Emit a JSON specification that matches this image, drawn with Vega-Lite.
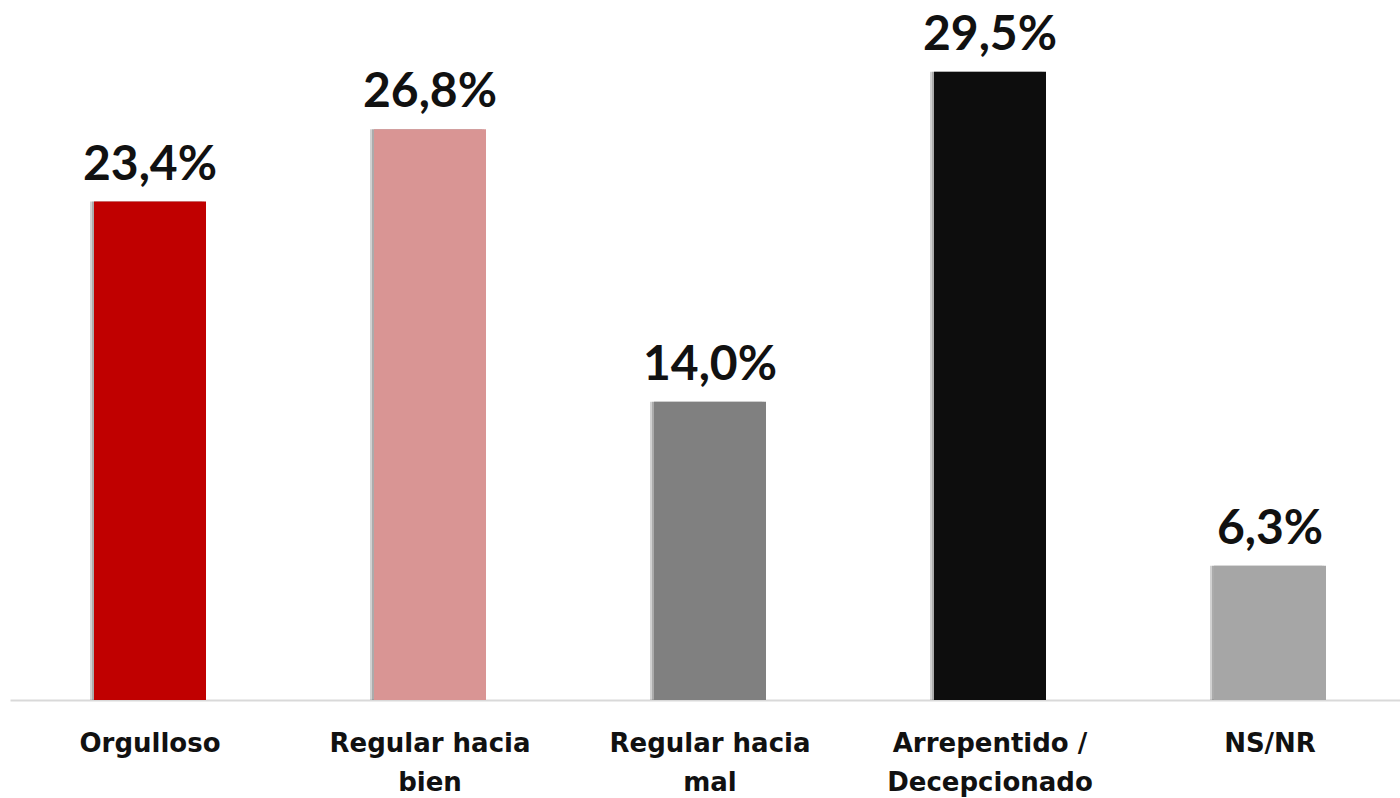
{
  "$schema": "https://vega.github.io/schema/vega-lite/v6.json",
  "width": 1400,
  "height": 639,
  "autosize": {"type": "none"},
  "padding": {"left": 10, "top": 61, "right": 0, "bottom": 98},
  "background": "#ffffff",
  "config": {"view": {"stroke": null}},
  "data": {
    "values": [
      {"cat": "Orgulloso", "value": 23.4, "label": "23,4%", "color": "#C00000"},
      {"cat": "Regular hacia\nbien", "value": 26.8, "label": "26,8%", "color": "#D99594"},
      {"cat": "Regular hacia\nmal", "value": 14.0, "label": "14,0%", "color": "#808080"},
      {"cat": "Arrepentido /\nDecepcionado", "value": 29.5, "label": "29,5%", "color": "#0D0D0D"},
      {"cat": "NS/NR", "value": 6.3, "label": "6,3%", "color": "#A6A6A6"}
    ]
  },
  "encoding": {
    "x": {
      "field": "cat",
      "type": "nominal",
      "sort": null,
      "scale": {"paddingInner": 0.6, "paddingOuter": 0.3},
      "axis": {
        "title": null,
        "labelAngle": 0,
        "labelExpr": "split(datum.label, '\\n')",
        "labelFont": "DejaVu Sans",
        "labelFontWeight": "bold",
        "labelFontSize": 26,
        "labelColor": "#111111",
        "labelLineHeight": 39,
        "labelPadding": 30,
        "labelLimit": 0,
        "labelBaseline": "top",
        "ticks": false,
        "domainColor": "#D9D9D9",
        "domainWidth": 2,
        "grid": false
      }
    },
    "y": {
      "field": "value",
      "type": "quantitative",
      "scale": {"domain": [0, 30], "nice": false, "zero": true},
      "axis": null
    }
  },
  "layer": [
    {
      "mark": {"type": "bar", "xOffset": -4, "color": "#000000", "opacity": 0.18},
      "encoding": {}
    },
    {
      "mark": {"type": "bar", "xOffset": -2, "color": "#000000", "opacity": 0.18},
      "encoding": {}
    },
    {
      "mark": {"type": "bar"},
      "encoding": {
        "color": {"field": "color", "type": "nominal", "scale": null}
      }
    },
    {
      "mark": {
        "type": "text",
        "font": "Lato",
        "fontWeight": "bold",
        "fontSize": 48,
        "color": "#111111",
        "baseline": "alphabetic",
        "dy": -22
      },
      "encoding": {
        "text": {"field": "label"}
      }
    }
  ]
}
